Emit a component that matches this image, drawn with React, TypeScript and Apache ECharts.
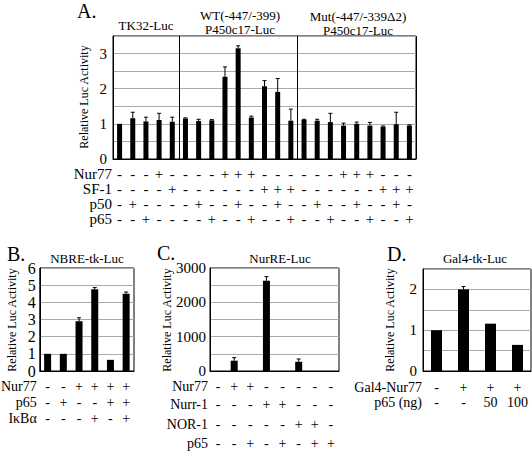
import React, { useEffect, useRef } from "react";
import * as echarts from "echarts";

const FONT = "Liberation Serif";

// ---------- Panel A ----------
const aValues = [1.0, 1.16, 1.07, 1.11, 1.06, 1.15, 1.08, 1.1, 2.34, 3.15, 1.18, 2.07, 1.91, 1.09, 1.12, 1.09, 1.05, 0.95, 1.0, 0.95, 0.92, 0.99, 0.95];
const aErrors = [0, 0.17, 0.12, 0.19, 0.13, 0.02, 0.05, 0.02, 0.28, 0.07, 0.04, 0.16, 0.38, 0.33, 0.01, 0.04, 0.25, 0.07, 0.05, 0.09, 0.02, 0.34, 0.02];
const aNur77 = ["-", "-", "-", "+", "-", "-", "-", "-", "+", "+", "+", "-", "-", "-", "-", "-", "-", "+", "+", "+", "-", "-", "-"];
const aSF1 = ["-", "-", "-", "-", "+", "-", "-", "-", "-", "-", "-", "+", "+", "+", "-", "-", "-", "-", "-", "-", "+", "+", "+"];
const aP50 = ["-", "+", "-", "-", "-", "-", "+", "-", "-", "+", "-", "-", "+", "-", "-", "+", "-", "-", "+", "-", "-", "+", "-"];
const aP65 = ["-", "-", "+", "-", "-", "-", "-", "+", "-", "-", "+", "-", "-", "+", "-", "-", "+", "-", "-", "+", "-", "-", "+"];
const aGroupBreaks = [5, 14];

// ---------- Panel B ----------
const bValues = [1.0, 1.0, 2.9, 4.76, 0.65, 4.5];
const bErrors = [0, 0, 0.2, 0.1, 0, 0.1];
const bNur77 = ["-", "-", "+", "+", "+", "+"];
const bP65 = ["-", "+", "-", "-", "+", "+"];
const bIkBa = ["-", "-", "-", "+", "-", "+"];

// ---------- Panel C ----------
const cValues = [0, 300, 0, 2630, 0, 270, 0, 0];
const cErrors = [0, 90, 0, 120, 0, 80, 0, 0];
const cNur77 = ["-", "+", "+", "-", "-", "-", "-", "-"];
const cNurr1 = ["-", "-", "-", "+", "+", "-", "-", "-"];
const cNOR1 = ["-", "-", "-", "-", "-", "+", "+", "-"];
const cP65 = ["-", "-", "+", "-", "+", "-", "+", "+"];

// ---------- Panel D ----------
const dValues = [1.0, 2.0, 1.16, 0.64];
const dErrors = [0, 0.07, 0, 0];
const dGal4 = ["-", "+", "+", "+"];
const dP65 = ["-", "-", "50", "100"];

const yTitle = "Relative Luc Activity";

type Row = { name: string; data: string[]; offset: number };
type Panel = {
  grid: { left: number; top: number; width: number; height: number };
  values: number[];
  errors: number[];
  rows: Row[];
  yMax: number;
  yInterval: number;
  labelStep: number;
  barWidth: number;
  tickFont: number;
  rowFont: number;
  yLabelMargin: number;
  rowNameGap: number;
  breaks?: number[];
};

const panels: Panel[] = [
  {
    grid: { left: 113, top: 36, width: 303, height: 123 },
    values: aValues,
    errors: aErrors,
    rows: [
      { name: "Nur77", data: aNur77, offset: 15 },
      { name: "SF-1", data: aSF1, offset: 30 },
      { name: "p50", data: aP50, offset: 45 },
      { name: "p65", data: aP65, offset: 60 },
    ],
    yMax: 3.5,
    yInterval: 0.5,
    labelStep: 1,
    barWidth: 5,
    tickFont: 15,
    rowFont: 15,
    yLabelMargin: 6,
    rowNameGap: 1,
    breaks: aGroupBreaks,
  },
  {
    grid: { left: 39, top: 268, width: 95, height: 103 },
    values: bValues,
    errors: bErrors,
    rows: [
      { name: "Nur77", data: bNur77, offset: 15 },
      { name: "p65", data: bP65, offset: 31 },
      { name: "IκBα", data: bIkBa, offset: 47 },
    ],
    yMax: 6,
    yInterval: 1,
    labelStep: 1,
    barWidth: 7,
    tickFont: 16,
    rowFont: 14,
    yLabelMargin: 4,
    rowNameGap: 3,
  },
  {
    grid: { left: 210, top: 268, width: 129, height: 103 },
    values: cValues,
    errors: cErrors,
    rows: [
      { name: "Nur77", data: cNur77, offset: 15 },
      { name: "Nurr-1", data: cNurr1, offset: 33 },
      { name: "NOR-1", data: cNOR1, offset: 53 },
      { name: "p65", data: cP65, offset: 72 },
    ],
    yMax: 3000,
    yInterval: 500,
    labelStep: 1000,
    barWidth: 7,
    tickFont: 15,
    rowFont: 14,
    yLabelMargin: 4,
    rowNameGap: 2,
  },
  {
    grid: { left: 423, top: 269, width: 108, height: 102 },
    values: dValues,
    errors: dErrors,
    rows: [
      { name: "Gal4-Nur77", data: dGal4, offset: 16 },
      { name: "p65 (ng)", data: dP65, offset: 31 },
    ],
    yMax: 2.5,
    yInterval: 0.5,
    labelStep: 1,
    barWidth: 11,
    tickFont: 15,
    rowFont: 14,
    yLabelMargin: 6,
    rowNameGap: 1,
  },
];

function buildOption() {
  const grid: any[] = [];
  const xAxis: any[] = [];
  const yAxis: any[] = [];
  const series: any[] = [];

  panels.forEach((p, gi) => {
    grid.push({ ...p.grid, show: true, borderColor: "#000", borderWidth: 1, backgroundColor: "transparent" });
    const mainIdx = xAxis.length;
    const breaks = p.breaks || [];
    xAxis.push({
      type: "category",
      gridIndex: gi,
      data: p.values.map((_, k) => String(k)),
      axisLine: { show: true, lineStyle: { color: "#000", width: 1 } },
      axisTick: { show: false },
      axisLabel: { show: false },
      splitLine: {
        show: breaks.length > 0,
        interval: (idx: number) => breaks.indexOf(idx) >= 0,
        lineStyle: { color: "#000", width: 1 },
      },
    });
    p.rows.forEach((r) => {
      xAxis.push({
        type: "category",
        gridIndex: gi,
        data: r.data,
        position: "bottom",
        offset: r.offset,
        axisLine: { show: false },
        axisTick: { show: false },
        splitLine: { show: false },
        axisLabel: { interval: 0, margin: 0, verticalAlign: "middle", color: "#000", fontSize: p.rowFont, fontFamily: FONT },
        name: r.name,
        nameLocation: "start",
        nameGap: p.rowNameGap,
        nameTextStyle: { color: "#000", fontSize: p.rowFont, fontFamily: FONT, verticalAlign: "middle", align: "right" },
      });
    });
    const step = p.labelStep;
    yAxis.push({
      type: "value",
      gridIndex: gi,
      min: 0,
      max: p.yMax,
      interval: p.yInterval,
      axisLine: { show: true, lineStyle: { color: "#000", width: 1 } },
      axisTick: { show: false },
      axisLabel: {
        color: "#000",
        fontSize: p.tickFont,
        fontFamily: FONT,
        margin: p.yLabelMargin,
        formatter: (v: number) => (Math.abs(v / step - Math.round(v / step)) < 1e-9 ? String(v) : ""),
      },
      splitLine: { show: true, lineStyle: { color: "#aaa", width: 1 } },
    });
    series.push({
      type: "bar",
      xAxisIndex: mainIdx,
      yAxisIndex: gi,
      data: p.values,
      barWidth: p.barWidth,
      itemStyle: { color: "#000" },
      silent: true,
      z: 2,
    });
    series.push({
      type: "custom",
      xAxisIndex: mainIdx,
      yAxisIndex: gi,
      data: p.values.map((v, k) => [k, v, p.errors[k]]),
      z: 3,
      silent: true,
      renderItem: (params: any, api: any) => {
        const e = api.value(2);
        if (!e) return null;
        const x = api.value(0);
        const v = api.value(1);
        const p0 = api.coord([x, v]);
        const p1 = api.coord([x, v + e]);
        return {
          type: "group",
          children: [
            { type: "line", shape: { x1: p0[0], y1: p0[1], x2: p1[0], y2: p1[1] }, style: { stroke: "#000", lineWidth: 1 } },
            { type: "line", shape: { x1: p1[0] - 2, y1: p1[1], x2: p1[0] + 2, y2: p1[1] }, style: { stroke: "#000", lineWidth: 1 } },
          ],
        };
      },
    });
  });

  const txt = (text: string, x: number, y: number, size: number, align = "center", rotation = 0) => ({
    type: "text",
    x,
    y,
    rotation,
    silent: true,
    style: { text, fontSize: size, fontFamily: FONT, fill: "#000", textAlign: align, textVerticalAlign: "middle" },
  });

  const R = Math.PI / 2;
  const graphic = [
    txt("A.", 77, 11, 20, "left"),
    txt("TK32-Luc", 146, 25, 13),
    txt("WT(-447/-399)", 240, 15, 13),
    txt("P450c17-Luc", 240, 29, 13),
    txt("Mut(-447/-339Δ2)", 358, 16, 13),
    txt("P450c17-Luc", 358, 30, 13),
    txt(yTitle, 84, 97, 12, "center", R),
    txt("B.", 7, 254, 20, "left"),
    txt("NBRE-tk-Luc", 87, 258, 13),
    txt(yTitle, 12, 320, 12, "center", R),
    txt("C.", 157, 253, 20, "left"),
    txt("NurRE-Luc", 280, 258, 13),
    txt(yTitle, 167, 320, 12, "center", R),
    txt("D.", 387, 254, 20, "left"),
    txt("Gal4-tk-Luc", 475, 258, 13),
    txt(yTitle, 390, 320, 12, "center", R),
  ];

  return {
    animation: false,
    backgroundColor: "#fff",
    textStyle: { fontFamily: FONT },
    grid,
    xAxis,
    yAxis,
    series,
    graphic,
  };
}

export default function App() {
  const ref = useRef<HTMLDivElement>(null);
  useEffect(() => {
    if (!ref.current) return;
    const chart = echarts.init(ref.current, undefined, { renderer: "svg" });
    chart.setOption(buildOption() as any);
    return () => chart.dispose();
  }, []);
  return <div ref={ref} style={{ position: "absolute", left: 0, top: 0, width: 532, height: 452 }} />;
}
